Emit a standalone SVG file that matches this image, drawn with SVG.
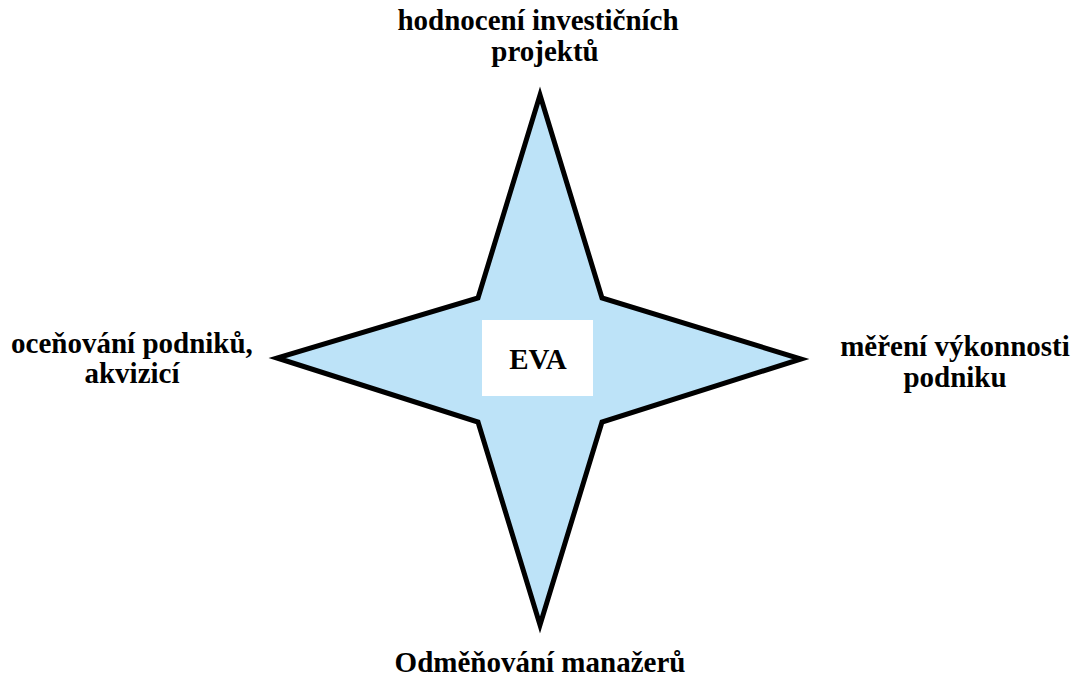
<svg xmlns="http://www.w3.org/2000/svg" width="1079" height="679" viewBox="0 0 1079 679">
<style>
.lbl{font-family:"Liberation Serif","Times New Roman",serif;font-weight:bold;font-size:29px;fill:#000;text-anchor:middle}
</style>
<rect width="1079" height="679" fill="#fff"/>
<g id="star">
<polygon points="540,95 602,298 801,359 602,422 540,625 478,422 277,358 478,298" fill="#BDE3F8" stroke="#000" stroke-width="5" stroke-linejoin="miter"/>
</g>
<g id="eva">
<rect x="482" y="320" width="111" height="76" fill="#fff"/>
<text class="lbl" x="538" y="369">EVA</text>
</g>
<g id="top">
<text class="lbl" x="538" y="30">hodnocení investičních</text>
<text class="lbl" x="545" y="61">projektů</text>
</g>
<g id="left">
<text class="lbl" x="132" y="353">oceňování podniků,</text>
<text class="lbl" x="132" y="383">akvizicí</text>
</g>
<g id="right">
<text class="lbl" x="955" y="356">měření výkonnosti</text>
<text class="lbl" x="955" y="387">podniku</text>
</g>
<g id="bottom">
<text class="lbl" x="540" y="672">Odměňování manažerů</text>
</g>
<g id="connectors"/>
</svg>
